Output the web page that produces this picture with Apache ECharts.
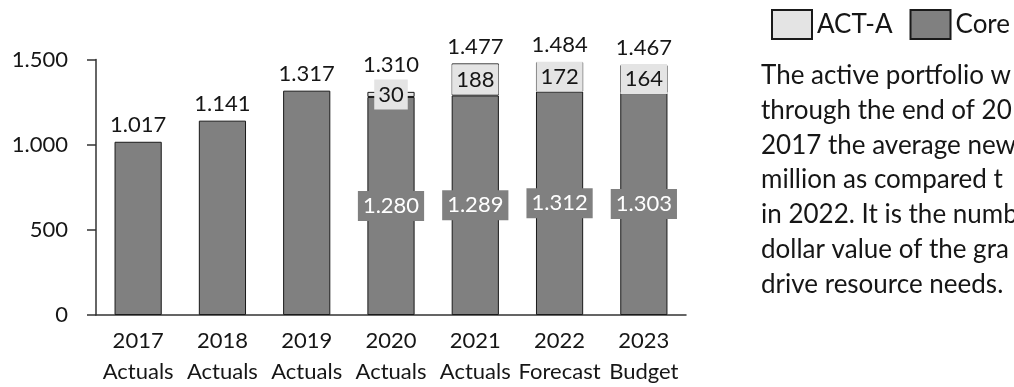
<!DOCTYPE html>
<html>
<head>
<meta charset="utf-8">
<script src="https://cdn.jsdelivr.net/npm/echarts@6/dist/echarts.min.js"></script>
<style>
  html, body { margin: 0; padding: 0; background: #fff; }
  #chart { width: 1014px; height: 387px; }
</style>
</head>
<body>
<div id="chart"></div>
<script>
// Portfolio size by year, split into Core and ACT-A
const years = ['2017', '2018', '2019', '2020', '2021', '2022', '2023'];
const stages = ['Actuals', 'Actuals', 'Actuals', 'Actuals', 'Actuals', 'Forecast', 'Budget'];
const coreValues = [1017, 1141, 1317, 1280, 1289, 1312, 1303];
const actAValues = [null, null, null, 30, 188, 172, 164];
const yTicks = [0, 500, 1000, 1500];

const noteLines = [
  'The active portfolio w',
  'through the end of 20',
  '2017 the average new',
  'million as compared t',
  'in 2022. It is the numb',
  'dollar value of the gra',
  'drive resource needs.'
];

const FONT = 'Lato, "Open Sans", sans-serif';
const INK = '#161616';
const fmt = v => Math.round(v).toString().replace(/\B(?=(\d{3})+(?!\d))/g, '.');

const categories = years.map((y, i) => y + '\n' + stages[i]);
const totalOf = i => coreValues[i] + (actAValues[i] || 0);

// Core segment labels appear only for the years that also carry ACT-A
const coreData = coreValues.map((v, i) => ({
  value: v,
  label: { show: actAValues[i] != null }
}));

// Zero-height cap on each stack that carries the total label;
// lifted clear of the ACT-A label when that segment is thin
const totalData = years.map((_, i) => ({
  value: 0,
  label: { distance: actAValues[i] != null && actAValues[i] < 60 ? 16 : 6 }
}));

const chart = echarts.init(document.getElementById('chart'), null, { renderer: 'canvas' });

const noteGraphics = noteLines.map((t, i) => ({
  type: 'text',
  left: 761,
  top: 63 + i * 34.7,
  style: { text: t, font: '26px ' + FONT, fill: INK }
}));

chart.setOption({
  animation: false,
  textStyle: { fontFamily: FONT },
  grid: { left: 96, right: 328, top: 59.5, bottom: 70.5, containLabel: false },
  legend: {
    data: ['ACT-A', 'Core'],
    left: 771,
    top: 9,
    width: 300,
    padding: 0,
    itemWidth: 40,
    itemHeight: 29,
    itemGap: 17,
    icon: 'rect',
    textStyle: { fontSize: 26, color: INK, fontFamily: FONT }
  },
  xAxis: {
    type: 'category',
    data: categories,
    axisLine: { lineStyle: { color: '#333', width: 1.5 } },
    axisTick: { show: false },
    axisLabel: {
      color: INK, fontSize: 22, lineHeight: 31, margin: 10, interval: 0,
      fontFamily: FONT
    }
  },
  yAxis: {
    type: 'value',
    min: 0, max: yTicks[yTicks.length - 1], interval: yTicks[1] - yTicks[0],
    splitLine: { show: false },
    axisLine: { show: true, lineStyle: { color: '#333', width: 1.5 } },
    axisTick: { show: true, length: 9, lineStyle: { color: '#333', width: 1.5 } },
    axisLabel: { color: INK, fontSize: 22, margin: 28, fontFamily: FONT, formatter: v => fmt(v) }
  },
  series: [
    {
      name: 'Core',
      type: 'bar',
      stack: 'total',
      barWidth: '56%',
      data: coreData,
      itemStyle: { color: '#808080', borderColor: '#1a1a1a', borderWidth: 1 },
      label: {
        show: true,
        position: 'inside',
        formatter: p => fmt(p.value),
        color: '#fff',
        fontSize: 22,
        fontFamily: FONT,
        backgroundColor: '#808080',
        padding: [4, 5, 4, 5]
      }
    },
    {
      name: 'ACT-A',
      type: 'bar',
      stack: 'total',
      barWidth: '56%',
      data: actAValues,
      itemStyle: { color: '#e4e4e4', borderColor: '#1a1a1a', borderWidth: 1 },
      label: {
        show: true,
        position: 'inside',
        formatter: p => fmt(p.value),
        color: INK,
        fontSize: 22,
        fontFamily: FONT,
        backgroundColor: '#e4e4e4',
        padding: [4, 4, 4, 4]
      }
    },
    {
      name: 'Total',
      type: 'bar',
      stack: 'total',
      barWidth: '56%',
      data: totalData,
      itemStyle: { color: 'transparent', borderWidth: 0 },
      silent: true,
      label: {
        show: true,
        position: 'top',
        distance: 6,
        formatter: p => fmt(totalOf(p.dataIndex)),
        color: INK,
        fontSize: 22,
        fontFamily: FONT
      }
    }
  ],
  graphic: noteGraphics
});
</script>
</body>
</html>
